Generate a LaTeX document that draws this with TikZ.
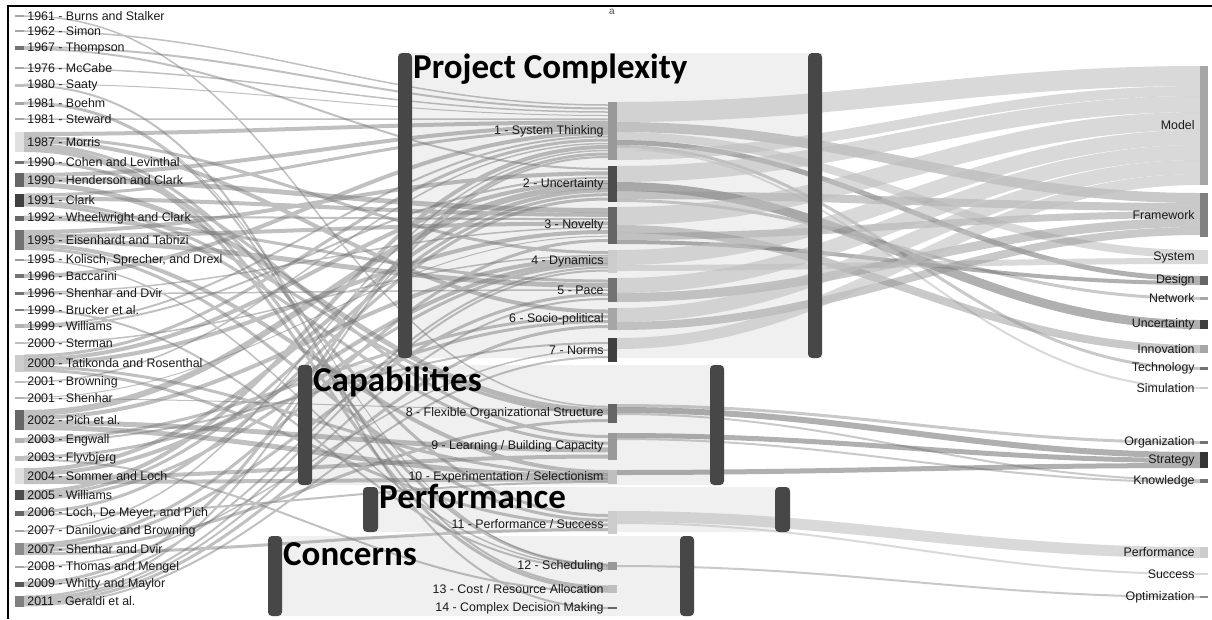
\documentclass[tikz,border=0pt]{standalone}
\usepackage{fontspec}
\setmainfont{Liberation Sans}
\newfontfamily\headfont{Carlito}
\usetikzlibrary{positioning}
\pgfdeclarelayer{back}
\pgfsetlayers{back,main}

\tikzset{
  bar/.style={rectangle, inner sep=0pt, minimum width=9pt},
  txt/.style={inner sep=0pt, text=black!90, font=\fontsize{12.4}{14}\selectfont},
  grouphead/.style={inner sep=0pt, anchor=base west, font=\headfont\bfseries\fontsize{35}{38}\selectfont},
  pane/.style={fill=black!6},
  paneside/.style={fill=black!72, rounded corners=4pt},
  flow/.style={draw=black!55, opacity=.45},
  liteband/.style={draw=black!25, opacity=.6},
  midband/.style={draw=black!42, opacity=.5},
  darkband/.style={draw=black!62, opacity=.5},
}

\begin{document}
\begin{tikzpicture}[x=1pt, y=-1pt]
\useasboundingbox (0,0) rectangle (1212,619);
\draw[line width=2.5] (8,619) -- (8,6) -- (1212,6);
\node[inner sep=0pt, text=black!70, font=\fontsize{10}{11}\selectfont] (mark) at (612,12) {a};

% authors
\node[bar, minimum height=1.5, fill=black!35] (a1) at (19.5,16) {};
\node[txt, right=3pt of a1] (la1) {1961 - Burns and Stalker};
\node[bar, minimum height=1.5, fill=black!35] (a2) at (19.5,31) {};
\node[txt, right=3pt of a2] (la2) {1962 - Simon};
\node[bar, minimum height=4, fill=black!55] (a3) at (19.5,48) {};
\node[txt, right=3pt of a3] (la3) {1967 - Thompson};
\node[bar, minimum height=1.5, fill=black!35] (a4) at (19.5,68) {};
\node[txt, right=3pt of a4] (la4) {1976 - McCabe};
\node[bar, minimum height=3, fill=black!25] (a5) at (19.5,85) {};
\node[txt, right=3pt of a5] (la5) {1980 - Saaty};
\node[bar, minimum height=3, fill=black!35] (a6) at (19.5,103) {};
\node[txt, right=3pt of a6] (la6) {1981 - Boehm};
\node[bar, minimum height=1.5, fill=black!35] (a7) at (19.5,119) {};
\node[txt, right=3pt of a7] (la7) {1981 - Steward};
\node[bar, minimum height=20, fill=black!12] (a8) at (19.5,142) {};
\node[txt, right=3pt of a8] (la8) {1987 - Morris};
\node[bar, minimum height=3, fill=black!55] (a9) at (19.5,162) {};
\node[txt, right=3pt of a9] (la9) {1990 - Cohen and Levinthal};
\node[bar, minimum height=14, fill=black!60] (a10) at (19.5,180) {};
\node[txt, right=3pt of a10] (la10) {1990 - Henderson and Clark};
\node[bar, minimum height=13, fill=black!75] (a11) at (19.5,200) {};
\node[txt, right=3pt of a11] (la11) {1991 - Clark};
\node[bar, minimum height=5, fill=black!60] (a12) at (19.5,218) {};
\node[txt, right=3pt of a12] (la12) {1992 - Wheelwright and Clark};
\node[bar, minimum height=20, fill=black!55] (a13) at (19.5,240) {};
\node[txt, right=3pt of a13] (la13) {1995 - Eisenhardt and Tabrizi};
\node[bar, minimum height=1.5, fill=black!40] (a14) at (19.5,260) {};
\node[txt, right=3pt of a14] (la14) {1995 - Kolisch, Sprecher, and Drexl};
\node[bar, minimum height=4, fill=black!55] (a15) at (19.5,276) {};
\node[txt, right=3pt of a15] (la15) {1996 - Baccarini};
\node[bar, minimum height=3, fill=black!55] (a16) at (19.5,293) {};
\node[txt, right=3pt of a16] (la16) {1996 - Shenhar and Dvir};
\node[bar, minimum height=2, fill=black!50] (a17) at (19.5,310) {};
\node[txt, right=3pt of a17] (la17) {1999 - Brucker et al.};
\node[bar, minimum height=4, fill=black!30] (a18) at (19.5,326) {};
\node[txt, right=3pt of a18] (la18) {1999 - Williams};
\node[bar, minimum height=1.5, fill=black!25] (a19) at (19.5,343) {};
\node[txt, right=3pt of a19] (la19) {2000 - Sterman};
\node[bar, minimum height=17, fill=black!20] (a20) at (19.5,363) {};
\node[txt, right=3pt of a20] (la20) {2000 - Tatikonda and Rosenthal};
\node[bar, minimum height=1.5, fill=black!25] (a21) at (19.5,382) {};
\node[txt, right=3pt of a21] (la21) {2001 - Browning};
\node[bar, minimum height=2, fill=black!30] (a22) at (19.5,398) {};
\node[txt, right=3pt of a22] (la22) {2001 - Shenhar};
\node[bar, minimum height=20, fill=black!60] (a23) at (19.5,420) {};
\node[txt, right=3pt of a23] (la23) {2002 - Pich et al.};
\node[bar, minimum height=5, fill=black!30] (a24) at (19.5,440) {};
\node[txt, right=3pt of a24] (la24) {2003 - Engwall};
\node[bar, minimum height=5, fill=black!25] (a25) at (19.5,458) {};
\node[txt, right=3pt of a25] (la25) {2003 - Flyvbjerg};
\node[bar, minimum height=16, fill=black!12] (a26) at (19.5,476) {};
\node[txt, right=3pt of a26] (la26) {2004 - Sommer and Loch};
\node[bar, minimum height=10, fill=black!70] (a27) at (19.5,495) {};
\node[txt, right=3pt of a27] (la27) {2005 - Williams};
\node[bar, minimum height=5, fill=black!60] (a28) at (19.5,513) {};
\node[txt, right=3pt of a28] (la28) {2006 - Loch, De Meyer, and Pich};
\node[bar, minimum height=1.5, fill=black!35] (a29) at (19.5,531) {};
\node[txt, right=3pt of a29] (la29) {2007 - Danilovic and Browning};
\node[bar, minimum height=12, fill=black!45] (a30) at (19.5,549) {};
\node[txt, right=3pt of a30] (la30) {2007 - Shenhar and Dvir};
\node[bar, minimum height=1.5, fill=black!35] (a31) at (19.5,567) {};
\node[txt, right=3pt of a31] (la31) {2008 - Thomas and Mengel};
\node[bar, minimum height=5, fill=black!65] (a32) at (19.5,584) {};
\node[txt, right=3pt of a32] (la32) {2009 - Whitty and Maylor};
\node[bar, minimum height=11, fill=black!50] (a33) at (19.5,601) {};
\node[txt, right=3pt of a33] (la33) {2011 - Geraldi et al.};

% categories
\node[bar, minimum height=58, fill=black!40] (c1) at (612.5,131) {};
\node[txt, left=4pt of c1] (lc1) {1 - System Thinking};
\node[bar, minimum height=36, fill=black!70] (c2) at (612.5,184) {};
\node[txt, left=4pt of c2] (lc2) {2 - Uncertainty};
\node[bar, minimum height=37, fill=black!60] (c3) at (612.5,225.5) {};
\node[txt, left=4pt of c3] (lc3) {3 - Novelty};
\node[bar, minimum height=23, fill=black!20] (c4) at (612.5,261.5) {};
\node[txt, left=4pt of c4] (lc4) {4 - Dynamics};
\node[bar, minimum height=24, fill=black!55] (c5) at (612.5,290) {};
\node[txt, left=4pt of c5] (lc5) {5 - Pace};
\node[bar, minimum height=22, fill=black!35] (c6) at (612.5,319) {};
\node[txt, left=4pt of c6] (lc6) {6 - Socio-political};
\node[bar, minimum height=24, fill=black!75] (c7) at (612.5,350) {};
\node[txt, left=4pt of c7] (lc7) {7 - Norms};
\node[bar, minimum height=19, fill=black!60] (c8) at (612.5,413.5) {};
\node[txt, left=4pt of c8] (lc8) {8 - Flexible Organizational Structure};
\node[bar, minimum height=27, fill=black!40] (c9) at (612.5,446.5) {};
\node[txt, left=4pt of c9] (lc9) {9 - Learning / Building Capacity};
\node[bar, minimum height=14, fill=black!25] (c10) at (612.5,477) {};
\node[txt, left=4pt of c10] (lc10) {10 - Experimentation / Selectionism};
\node[bar, minimum height=23, fill=black!20] (c11) at (612.5,522.5) {};
\node[txt, left=4pt of c11, yshift=-2pt] (lc11) {11 - Performance / Success};
\node[bar, minimum height=8, fill=black!40] (c12) at (612.5,566) {};
\node[txt, left=4pt of c12] (lc12) {12 - Scheduling};
\node[bar, minimum height=8, fill=black!25] (c13) at (612.5,589) {};
\node[txt, left=4pt of c13] (lc13) {13 - Cost / Resource Allocation};
\node[bar, minimum height=2, fill=black!60] (c14) at (612.5,608) {};
\node[txt, left=4pt of c14] (lc14) {14 - Complex Decision Making};

% keywords
\node[bar, minimum width=8pt, minimum height=119, fill=black!35] (k1) at (1204,125.5) {};
\node[txt, left=5pt of k1] (lk1) {Model};
\node[bar, minimum width=8pt, minimum height=44, fill=black!50] (k2) at (1204,215) {};
\node[txt, left=5pt of k2] (lk2) {Framework};
\node[bar, minimum width=8pt, minimum height=14, fill=black!15] (k3) at (1204,257) {};
\node[txt, left=5pt of k3] (lk3) {System};
\node[bar, minimum width=8pt, minimum height=9, fill=black!60] (k4) at (1204,280.5) {};
\node[txt, left=5pt of k4] (lk4) {Design};
\node[bar, minimum width=8pt, minimum height=3, fill=black!35] (k5) at (1204,298.5) {};
\node[txt, left=5pt of k5] (lk5) {Network};
\node[bar, minimum width=8pt, minimum height=9, fill=black!75] (k6) at (1204,324.5) {};
\node[txt, left=5pt of k6] (lk6) {Uncertainty};
\node[bar, minimum width=8pt, minimum height=8, fill=black!35] (k7) at (1204,349) {};
\node[txt, left=5pt of k7] (lk7) {Innovation};
\node[bar, minimum width=8pt, minimum height=3, fill=black!55] (k8) at (1204,368.5) {};
\node[txt, left=5pt of k8] (lk8) {Technology};
\node[bar, minimum width=8pt, minimum height=2, fill=black!20] (k9) at (1204,388) {};
\node[txt, left=5pt of k9] (lk9) {Simulation};
\node[bar, minimum width=8pt, minimum height=3, fill=black!55] (k10) at (1204,442.5) {};
\node[txt, left=5pt of k10] (lk10) {Organization};
\node[bar, minimum width=8pt, minimum height=16, fill=black!80] (k11) at (1204,460) {};
\node[txt, left=5pt of k11] (lk11) {Strategy};
\node[bar, minimum width=8pt, minimum height=4, fill=black!55] (k12) at (1204,481) {};
\node[txt, left=5pt of k12] (lk12) {Knowledge};
\node[bar, minimum width=8pt, minimum height=11, fill=black!20] (k13) at (1204,552.5) {};
\node[txt, left=5pt of k13] (lk13) {Performance};
\node[bar, minimum width=8pt, minimum height=2, fill=black!15] (k14) at (1204,574) {};
\node[txt, left=5pt of k14] (lk14) {Success};
\node[bar, minimum width=8pt, minimum height=2, fill=black!45] (k15) at (1204,597) {};
\node[txt, left=5pt of k15] (lk15) {Optimization};

% group titles
\node[grouphead] (hpc) at (413,78) {Project Complexity};
\node[grouphead] (hcap) at (313,391) {Capabilities};
\node[grouphead] (hperf) at (379,508) {Performance};
\node[grouphead] (hcon) at (283,565) {Concerns};

\begin{pgfonlayer}{back}
\fill[pane] (398,53) rectangle (822,358)
            (298,365) rectangle (724,485)
            (363,487) rectangle (790,532)
            (268,536) rectangle (694,616);

% authors to categories
\draw[flow, line width=1]
  ([yshift=1]a5.east) to[out=0,in=180] ([yshift=15.5]c1.west)
  ([yshift=1]a6.east) to[out=0,in=180] ([yshift=1]c12.west)
  ([yshift=.5]a22.east) to[out=0,in=180] ([yshift=-10.7]c3.west)
  ([yshift=-.5]a22.east) to[out=0,in=180] ([yshift=3.5]c8.west);
\draw[flow, line width=1.5]
  (a1.east) to[out=0,in=180] ([yshift=7]c8.west)
  (a2.east) to[out=0,in=180] ([yshift=26]c1.west)
  (a4.east) to[out=0,in=180] ([yshift=19]c1.west)
  (a7.east) to[out=0,in=180] ([yshift=12]c1.west)
  (a14.east) to[out=0,in=180] ([yshift=-1]c12.west)
  ([yshift=.75]a16.east) to[out=0,in=180] ([yshift=-2.1]c3.west)
  ([yshift=-.75]a16.east) to[out=0,in=180] (c5.west)
  (a19.east) to[out=0,in=180] ([yshift=6]c4.west)
  (a21.east) to[out=0,in=180] ([yshift=-12.5]c1.west)
  (a29.east) to[out=0,in=180] ([yshift=-19.5]c1.west)
  (a31.east) to[out=0,in=180] (c7.west);
\draw[flow, line width=2]
  ([yshift=1]a3.east) to[out=0,in=180] ([yshift=22.5]c1.west)
  ([yshift=-1]a3.east) to[out=0,in=180] ([yshift=15]c2.west)
  ([yshift=-.5]a5.east) to[out=0,in=180] (c14.west)
  ([yshift=-.5]a6.east) to[out=0,in=180] ([yshift=2.5]c13.west)
  ([yshift=1.5]a12.east) to[out=0,in=180] ([yshift=6.4]c3.west)
  (a17.east) to[out=0,in=180] ([yshift=-3]c12.west)
  ([yshift=1]a18.east) to[out=0,in=180] ([yshift=-5.5]c1.west)
  ([yshift=-1]a18.east) to[out=0,in=180] ([yshift=6.4]c2.west)
  ([yshift=-1.5]a24.east) to[out=0,in=180] ([yshift=7]c7.west)
  ([yshift=-1.5]a25.east) to[out=0,in=180] ([yshift=-2.5]c13.west)
  ([yshift=-1.5]a28.east) to[out=0,in=180] ([yshift=-5]c10.west)
  ([yshift=-1.5]a32.east) to[out=0,in=180] ([yshift=-6]c4.west)
  ([yshift=4.5]a33.east) to[out=0,in=180] ([yshift=-26]c1.west)
  ([yshift=2.5]a33.east) to[out=0,in=180] ([yshift=-9]c4.west)
  ([yshift=.5]a33.east) to[out=0,in=180] ([yshift=-9]c5.west)
  ([yshift=-4.5]a33.east) to[out=0,in=180] ([yshift=-7]c7.west);
\draw[flow, line width=3]
  ([yshift=4.5]a8.east) to[out=0,in=180] ([yshift=9]c4.west)
  ([yshift=-2.5]a8.east) to[out=0,in=180] ([yshift=7]c11.west)
  ([yshift=-5.5]a8.east) to[out=0,in=180] ([yshift=1]c12.west)
  ([yshift=-8.5]a8.east) to[out=0,in=180] (c13.west)
  (a9.east) to[out=0,in=180] ([yshift=10]c9.west)
  ([yshift=5]a11.east) to[out=0,in=180] ([yshift=1.5]c1.west)
  ([yshift=-2]a11.east) to[out=0,in=180] (c8.west)
  ([yshift=-5]a11.east) to[out=0,in=180] ([yshift=3.3]c9.west)
  ([yshift=-1]a12.east) to[out=0,in=180] ([yshift=9]c5.west)
  ([yshift=-8.5]a13.east) to[out=0,in=180] ([yshift=2.3]c11.west)
  ([yshift=7]a20.east) to[out=0,in=180] ([yshift=-9]c1.west)
  ([yshift=-4]a20.east) to[out=0,in=180] ([yshift=2.5]c10.west)
  ([yshift=-7]a20.east) to[out=0,in=180] ([yshift=-2.3]c11.west)
  ([yshift=1]a24.east) to[out=0,in=180] ([yshift=2.5]c6.west)
  ([yshift=1]a25.east) to[out=0,in=180] ([yshift=-2.5]c6.west)
  ([yshift=-.5]a27.east) to[out=0,in=180] ([yshift=-10.7]c2.west)
  ([yshift=-3.5]a27.east) to[out=0,in=180] ([yshift=-3]c4.west)
  ([yshift=1]a28.east) to[out=0,in=180] ([yshift=-15]c2.west)
  ([yshift=4.5]a30.east) to[out=0,in=180] ([yshift=-15]c3.west)
  ([yshift=1.5]a30.east) to[out=0,in=180] ([yshift=-4.5]c5.west)
  ([yshift=-1.5]a30.east) to[out=0,in=180] ([yshift=-7]c8.west)
  ([yshift=-4.5]a30.east) to[out=0,in=180] ([yshift=-7]c11.west)
  ([yshift=1]a32.east) to[out=0,in=180] ([yshift=-23]c1.west)
  ([yshift=-2]a33.east) to[out=0,in=180] ([yshift=-7.5]c6.west);
\draw[flow, line width=4]
  ([yshift=8]a8.east) to[out=0,in=180] ([yshift=8.5]c1.west)
  ([yshift=1]a8.east) to[out=0,in=180] ([yshift=7.5]c6.west)
  ([yshift=5]a10.east) to[out=0,in=180] ([yshift=5]c1.west)
  ([yshift=1.5]a11.east) to[out=0,in=180] ([yshift=10.7]c3.west)
  ([yshift=8]a13.east) to[out=0,in=180] ([yshift=10.7]c2.west)
  ([yshift=4]a13.east) to[out=0,in=180] ([yshift=2.1]c3.west)
  ([yshift=-5]a13.east) to[out=0,in=180] ([yshift=5]c10.west)
  (a15.east) to[out=0,in=180] ([yshift=-2]c1.west)
  ([yshift=3.5]a20.east) to[out=0,in=180] ([yshift=2.1]c2.west)
  ([yshift=-.5]a20.east) to[out=0,in=180] ([yshift=-6.4]c3.west)
  ([yshift=2]a23.east) to[out=0,in=180] ([yshift=3]c4.west)
  ([yshift=6]a26.east) to[out=0,in=180] ([yshift=-6.4]c2.west)
  ([yshift=2]a26.east) to[out=0,in=180] (c4.west)
  ([yshift=-2]a26.east) to[out=0,in=180] ([yshift=-10]c9.west)
  ([yshift=-6]a26.east) to[out=0,in=180] ([yshift=-2.5]c10.west)
  ([yshift=3]a27.east) to[out=0,in=180] ([yshift=-16]c1.west);
\draw[flow, line width=5]
  ([yshift=.5]a10.east) to[out=0,in=180] ([yshift=15]c3.west)
  ([yshift=-4.5]a10.east) to[out=0,in=180] ([yshift=3.5]c8.west)
  ([yshift=-.5]a13.east) to[out=0,in=180] ([yshift=4.5]c5.west)
  ([yshift=-2.5]a23.east) to[out=0,in=180] ([yshift=-3.3]c9.west)
  ([yshift=-7.5]a23.east) to[out=0,in=180] (c10.west);
\draw[flow, line width=6]
  ([yshift=7]a23.east) to[out=0,in=180] ([yshift=-2.1]c2.west);

% categories to keywords
\draw[liteband, line width=20] ([yshift=19]c1.east) to[out=0,in=180] ([yshift=49.5]k1.west);
\draw[midband, line width=10] ([yshift=4]c1.east) to[out=0,in=180] ([yshift=17]k2.west);
\draw[liteband, line width=8] ([yshift=-5]c1.east) to[out=0,in=180] ([yshift=3]k3.west);
\draw[darkband, line width=5] ([yshift=-11.5]c1.east) to[out=0,in=180] ([yshift=2]k4.west);
\draw[midband, line width=3] ([yshift=-15.5]c1.east) to[out=0,in=180] (k8.west);
\draw[liteband, line width=2] ([yshift=-18]c1.east) to[out=0,in=180] (k9.west);
\draw[liteband, line width=10] ([yshift=-24]c1.east) to[out=0,in=180] ([yshift=34.5]k1.west);
\draw[liteband, line width=16] ([yshift=10]c2.east) to[out=0,in=180] ([yshift=21.5]k1.west);
\draw[darkband, line width=9] ([yshift=-2.5]c2.east) to[out=0,in=180] (k6.west);
\draw[midband, line width=8] ([yshift=-11]c2.east) to[out=0,in=180] ([yshift=8]k2.west);
\draw[midband, line width=3] ([yshift=-16.5]c2.east) to[out=0,in=180] (k5.west);
\draw[liteband, line width=18] ([yshift=9.5]c3.east) to[out=0,in=180] ([yshift=4.5]k1.west);
\draw[midband, line width=8] ([yshift=-3.5]c3.east) to[out=0,in=180] (k7.west);
\draw[midband, line width=7] ([yshift=-11]c3.east) to[out=0,in=180] ([yshift=.5]k2.west);
\draw[darkband, line width=4] ([yshift=-16.5]c3.east) to[out=0,in=180] ([yshift=-2.5]k4.west);
\draw[liteband, line width=15] ([yshift=4]c4.east) to[out=0,in=180] ([yshift=-12]k1.west);
\draw[liteband, line width=6] ([yshift=-6.5]c4.east) to[out=0,in=180] ([yshift=-4]k3.west);
\draw[liteband, line width=15] ([yshift=4.5]c5.east) to[out=0,in=180] ([yshift=-27]k1.west);
\draw[midband, line width=9] ([yshift=-7.5]c5.east) to[out=0,in=180] ([yshift=-7.5]k2.west);
\draw[liteband, line width=14] ([yshift=4]c6.east) to[out=0,in=180] ([yshift=-41.5]k1.west);
\draw[midband, line width=8] ([yshift=-7]c6.east) to[out=0,in=180] ([yshift=-16]k2.west);
\draw[liteband, line width=11] ([yshift=6.5]c7.east) to[out=0,in=180] ([yshift=-54]k1.west);
\draw[midband, line width=3] ([yshift=8]c8.east) to[out=0,in=180] (k10.west);
\draw[darkband, line width=6] ([yshift=3.5]c8.east) to[out=0,in=180] ([yshift=5]k11.west);
\draw[midband, line width=2] ([yshift=-.5]c8.east) to[out=0,in=180] ([yshift=1]k12.west);
\draw[darkband, line width=5] ([yshift=11]c9.east) to[out=0,in=180] ([yshift=-.5]k11.west);
\draw[midband, line width=2] ([yshift=7.5]c9.east) to[out=0,in=180] ([yshift=-1]k12.west);
\draw[darkband, line width=5] ([yshift=4.5]c10.east) to[out=0,in=180] ([yshift=-5.5]k11.west);
\draw[liteband, line width=11] ([yshift=6]c11.east) to[out=0,in=180] (k13.west);
\draw[liteband, line width=2] ([yshift=-.5]c11.east) to[out=0,in=180] (k14.west);
\draw[midband, line width=2] (c12.east) to[out=0,in=180] (k15.west);

% group sides
\fill[paneside] (398,53) rectangle (412,358)
                (808,53) rectangle (822,358)
                (298,365) rectangle (312,485)
                (710,365) rectangle (724,485)
                (363,487) rectangle (378,532)
                (775,487) rectangle (790,532)
                (268,536) rectangle (282,616)
                (680,536) rectangle (694,616);
\end{pgfonlayer}
\end{tikzpicture}
\end{document}
